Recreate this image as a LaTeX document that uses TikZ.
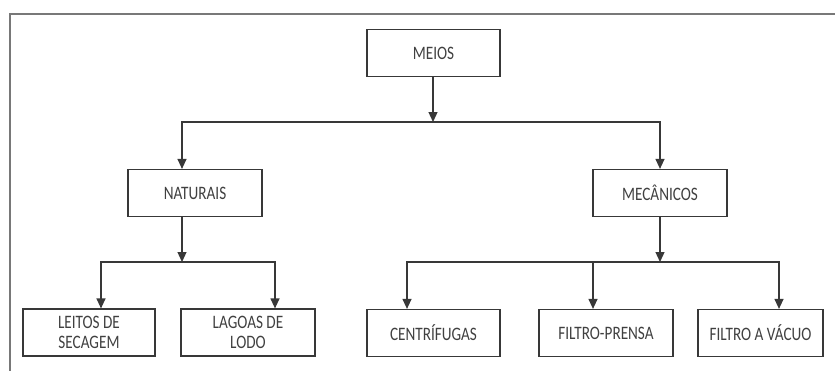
\documentclass[tikz,border=0pt]{standalone}
\usepackage{fontspec}
\setmainfont{Carlito}[FakeStretch=0.8]
\usetikzlibrary{arrows.meta}
\begin{document}
\begin{tikzpicture}[x=1pt,y=-1pt]
\definecolor{cframe}{rgb}{0.47,0.47,0.47}
\definecolor{cline}{rgb}{0.22,0.22,0.22}
\definecolor{ctext}{rgb}{0.25,0.25,0.25}
\tikzset{caixa/.style={draw=cline,line width=1.2pt,inner sep=0pt,minimum height=47pt,text=ctext,align=center,font=\fontsize{19}{20}\selectfont},
seta/.style={draw=cline,line width=1.2pt,-{Triangle[width=9pt,length=10pt]}}}
\useasboundingbox (0,0) rectangle (835,370);
\draw [line width=1.6pt,color=cframe] (10,371) -- (10,14) -- (836,14);
\node[caixa,minimum width=133pt] (meios) at (433.5,53) {MEIOS};
\node[caixa,minimum width=134pt] (naturais) at (195,193) {NATURAIS};
\node[caixa,minimum width=134pt] (mecanicos) at (660,193) {MECÂNICOS};
\node[caixa,minimum width=132pt] (leitos) at (89,332.5) {LEITOS DE\\SECAGEM};
\node[caixa,minimum width=134pt] (lagoas) at (248,332.5) {LAGOAS DE\\LODO};
\node[caixa,minimum width=133pt] (centrifugas) at (433.5,333) {CENTRÍFUGAS};
\node[caixa,minimum width=134pt] (prensa) at (606,333) {FILTRO-PRENSA};
\node[caixa,minimum width=125pt] (vacuo) at (760.5,333) {FILTRO A VÁCUO};
\coordinate (j1) at (433,122);
\coordinate (j2) at (182,262);
\coordinate (j3) at (660,262);
\coordinate (j4) at (593,262);
\draw [seta] (meios.south -| j1) -- (j1);
\draw [seta] (j1) -| ([xshift=-13pt]naturais.north);
\draw [seta] (j1) -| (mecanicos.north);
\draw [seta] ([xshift=-13pt]naturais.south) -- (j2);
\draw [seta] (j2) -| ([xshift=12pt]leitos.north);
\draw [seta] (j2) -| ([xshift=27pt]lagoas.north);
\draw [seta] (mecanicos.south) -- (j3);
\draw [seta] (j3) -| ([xshift=-26.5pt]centrifugas.north);
\draw [seta] (j3) -| ([xshift=18.5pt]vacuo.north);
\draw [seta] (j4) -- ([xshift=-13pt]prensa.north);
\end{tikzpicture}
\end{document}
